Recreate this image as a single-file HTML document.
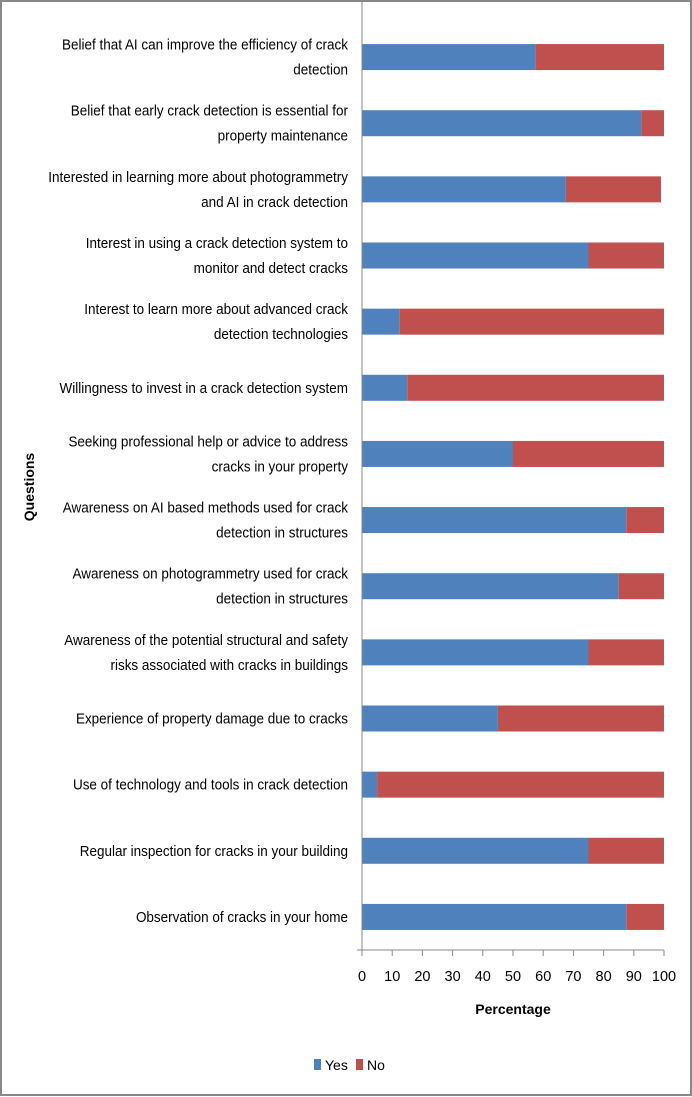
<!DOCTYPE html>
<html><head><meta charset="utf-8"><style>
body{margin:0;background:#fff;}
svg{display:block;font-family:"Liberation Sans",sans-serif;}
</style></head><body>
<svg width="692" height="1097" id="chart">
<rect x="1" y="1" width="690" height="1094" fill="#fff" stroke="#888" stroke-width="2"/>
<g id="bars"></g>
<g id="ylabels" transform="translate(348,0) scale(0.9,1) translate(-348,0)"></g>
<g id="xaxis"></g>
<text x="513" y="1014" text-anchor="middle" font-size="14" font-weight="bold">Percentage</text>
<text transform="translate(34,487) rotate(-90)" text-anchor="middle" font-size="14" font-weight="bold">Questions</text>
<g>
<rect x="314" y="1059" width="7" height="11" fill="#4f81bd"/>
<text x="325" y="1070" font-size="14">Yes</text>
<rect x="356" y="1059" width="7" height="11" fill="#c0504d"/>
<text x="367" y="1070" font-size="14">No</text>
</g>
</svg>
<script>
const categories = [
 ["Belief that AI can improve the efficiency of crack","detection"],
 ["Belief that early crack detection is essential for","property maintenance"],
 ["Interested in learning more about photogrammetry","and AI in crack detection"],
 ["Interest in using a crack detection system to","monitor and detect cracks"],
 ["Interest to learn more about advanced crack","detection technologies"],
 ["Willingness to invest in a crack detection system"],
 ["Seeking professional help or advice to address","cracks in your property"],
 ["Awareness on AI based methods  used for crack","detection in structures"],
 ["Awareness on photogrammetry used for crack","detection in structures"],
 ["Awareness of the potential structural and safety","risks associated with cracks in buildings"],
 ["Experience of property damage due to cracks"],
 ["Use of technology and tools in crack detection"],
 ["Regular inspection for cracks in your building"],
 ["Observation of cracks in your home"]
];
const yesValues = [57.5,92.5,67.5,75,12.5,15,50,87.5,85,75,45,5,75,87.5];
const noValues = [42.5,7.5,31.5,25,87.5,85,50,12.5,15,25,55,95,25,12.5];
const xTicks = [0,10,20,30,40,50,60,70,80,90,100];

const NS="http://www.w3.org/2000/svg";
const x0=362,x1=664,top0=24,bottom=950;
const xs=v=>x0+(x1-x0)*v/100;
const band=(bottom-top0)/categories.length;
const yc=i=>top0+band*(i+0.5);
const bh=26;
function mk(tag,attrs,parent){const e=document.createElementNS(NS,tag);for(const k in attrs)e.setAttribute(k,attrs[k]);parent.appendChild(e);return e;}
const bars=document.getElementById('bars'),yl=document.getElementById('ylabels'),xa=document.getElementById('xaxis');
categories.forEach((c,i)=>{
 const y=yc(i)-bh/2;
 const r1=mk('rect',{x:xs(0),y:y,width:xs(yesValues[i])-xs(0),height:bh,fill:'#4f81bd'},bars);
 
 
 const r2=mk('rect',{x:xs(yesValues[i]),y:y,width:xs(yesValues[i]+noValues[i])-xs(yesValues[i]),height:bh,fill:'#c0504d'},bars);
 
 
 const t=mk('text',{'text-anchor':'end','font-size':15,x:348},yl);
 
 
 const n=c.length, ly=yc(i)+5-(n-1)*12.5;
 c.forEach((line,j)=>{const ts=mk('tspan',{x:348,y:ly+j*25},t);ts.textContent=line;});
});
const ax=mk('line',{x1:x0,y1:0,x2:x0,y2:bottom,stroke:'#888','stroke-width':1},xa);


const bx=mk('line',{x1:x0-5,y1:bottom,x2:x1,y2:bottom,stroke:'#888','stroke-width':1},xa);


xTicks.forEach(v=>{
 const tk=mk('line',{x1:xs(v),y1:bottom,x2:xs(v),y2:bottom+6,stroke:'#888'},xa);
 
 
 const tl=mk('text',{x:xs(v),y:981,'text-anchor':'middle','font-size':14.5},xa);
 
 
 tl.textContent=v;
});
</script>
</body></html>
